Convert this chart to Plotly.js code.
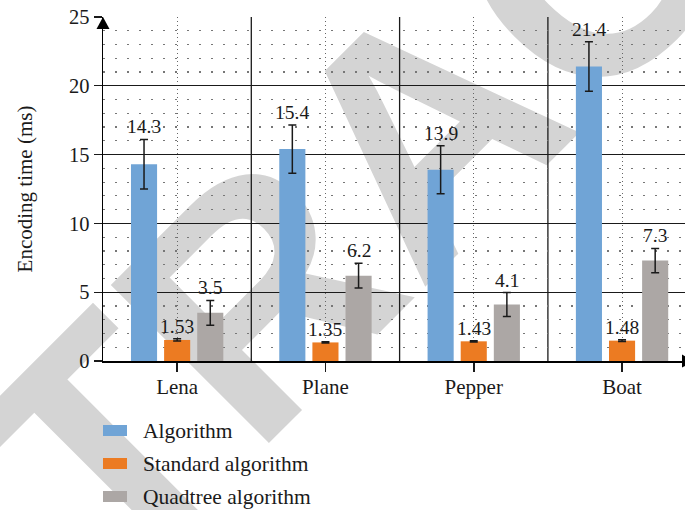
<!DOCTYPE html>
<html>
<head>
<meta charset="utf-8">
<script src="https://cdn.plot.ly/plotly-3.0.1.min.js"></script>
<style>html,body{margin:0;padding:0;background:#fff}</style>
</head>
<body>
<div id="chart" style="width:685px;height:510px"></div>
<script>
// Encoding time per test image, mean and spread
const categories = ['Lena', 'Plane', 'Pepper', 'Boat'];
const seriesNames = ['Algorithm', 'Standard algorithm', 'Quadtree algorithm'];
const algorithmTime = [14.3, 15.4, 13.9, 21.4];
const standardTime = [1.53, 1.35, 1.43, 1.48];
const quadtreeTime = [3.5, 6.2, 4.1, 7.3];
const algorithmErr = [1.8, 1.75, 1.75, 1.8];
const standardErr = [0.08, 0.05, 0.05, 0.06];
const quadtreeErr = [0.9, 0.9, 0.87, 0.88];
const yTickValues = [0, 5, 10, 15, 20, 25];
const yTitle = 'Encoding time (ms)';
const watermarkText = 'RETRACTED';

const colors = ['#70a4d6', '#ec7b22', '#aca7a5'];
const seriesValues = [algorithmTime, standardTime, quadtreeTime];
const seriesErrors = [algorithmErr, standardErr, quadtreeErr];

const W = 685, H = 510;
const M = {l: 103, r: 0, t: 17, b: 149};
const plotW = W - M.l - M.r, plotH = H - M.t - M.b;
const serif = 'Liberation Serif';
const ink = '#1a1a1a';
const bargap = 0.33, bargroupgap = 0.212;
const slot = (1 - bargap) / 3;

// pixel -> paper helpers
const px = x => (x - M.l) / plotW;
const py = y => (M.t + plotH - y) / plotH;

const traces = seriesNames.map((name, k) => ({
  type: 'bar',
  name: name,
  x: categories,
  y: seriesValues[k],
  marker: {color: colors[k], line: {width: 0}},
  error_y: {type: 'data', array: seriesErrors[k], visible: true,
            color: ink, thickness: 1.5, width: 4},
  showlegend: false,
  hoverinfo: 'skip'
}));

// value labels sit just above each error bar
const annotations = [];
seriesValues.forEach((vals, k) => {
  vals.forEach((v, i) => {
    annotations.push({
      x: i + (k - 1) * slot, y: v + seriesErrors[k][i],
      xref: 'x', yref: 'y', text: String(v), showarrow: false,
      yanchor: 'bottom', xanchor: 'center', yshift: 0,
      font: {family: serif, size: 19.5, color: ink}
    });
  });
});

const shapes = [];
// diagonal watermark lettering behind the grid
const wmCx = 401, wmCy = 108;
shapes.push({
  type: 'rect', layer: 'below', xref: 'paper', yref: 'paper',
  x0: px(wmCx - 2), y0: py(wmCy + 2), x1: px(wmCx + 2), y1: py(wmCy - 2),
  line: {color: 'rgba(0,0,0,0)', width: 0}, fillcolor: 'rgba(0,0,0,0)',
  label: {text: watermarkText, textangle: -45, textposition: 'middle center',
          xanchor: 'center', yanchor: 'middle', padding: 0,
          font: {family: 'Liberation Sans', size: 325, color: '#d4d4d4', weight: 'bold'}}
});
// solid dividers between image groups
[0.5, 1.5, 2.5].forEach(xb => shapes.push({
  type: 'line', layer: 'between', xref: 'x', yref: 'paper',
  x0: xb, x1: xb, y0: 0, y1: 1, line: {color: ink, width: 1.3}
}));
// axis arrowheads
shapes.push({
  type: 'path', xref: 'paper', yref: 'paper', xsizemode: 'pixel', ysizemode: 'pixel',
  xanchor: 0, yanchor: 1, path: 'M-6.5,-12 L6.5,-12 L0,0 Z',
  fillcolor: '#000', line: {width: 0}
});
shapes.push({
  type: 'path', xref: 'paper', yref: 'paper', xsizemode: 'pixel', ysizemode: 'pixel',
  xanchor: 1, yanchor: 0, path: 'M-3,6.5 L-3,-6.5 L9,0 Z',
  fillcolor: '#000', line: {width: 0}
});

// legend below the axes: wide swatches with serif labels
seriesNames.forEach((name, k) => {
  const cy = 430.5 + k * 33;
  shapes.push({
    type: 'rect', xref: 'paper', yref: 'paper',
    x0: px(103), x1: px(127), y0: py(cy + 5.5), y1: py(cy - 5.5),
    fillcolor: colors[k], line: {width: 0}
  });
  annotations.push({
    xref: 'paper', yref: 'paper', x: px(141), y: py(cy),
    xanchor: 'left', yanchor: 'middle', showarrow: false, text: name,
    font: {family: serif, size: 21.5, color: ink}
  });
});

const layout = {
  width: W, height: H,
  margin: M,
  paper_bgcolor: '#fff', plot_bgcolor: 'rgba(0,0,0,0)',
  barmode: 'group', bargap: bargap, bargroupgap: bargroupgap,
  font: {family: serif, color: ink, size: 20},
  xaxis: {
    type: 'category', range: [-0.5, -0.5 + plotW / 148.3],
    showline: true, linecolor: '#000', linewidth: 1.5,
    ticks: 'outside', ticklen: 9, tickwidth: 1.5, tickcolor: ink,
    ticklabelstandoff: -3,
    showgrid: true, gridcolor: '#666', gridwidth: 1, griddash: '1px,3px',
    tickfont: {family: serif, size: 21, color: ink},
    zeroline: false, fixedrange: true
  },
  yaxis: {
    range: [0, 25], tickvals: yTickValues, ticktext: yTickValues.map(String),
    showline: true, linecolor: '#000', linewidth: 1.5,
    ticks: 'outside', ticklen: 8, tickwidth: 1.3, tickcolor: ink,
    showgrid: true, gridcolor: ink, gridwidth: 1.3,
    minor: {dtick: 1, showgrid: true, gridcolor: '#777', gridwidth: 1.2, griddash: '1.5px,10.5px'},
    tickfont: {family: serif, size: 20.5, color: ink},
    title: {text: yTitle, font: {family: serif, size: 21, color: ink}, standoff: 30},
    zeroline: false, fixedrange: true
  },
  shapes: shapes,
  annotations: annotations,
  showlegend: false
};

Plotly.newPlot('chart', traces, layout, {displayModeBar: false, staticPlot: true});
</script>
</body>
</html>
